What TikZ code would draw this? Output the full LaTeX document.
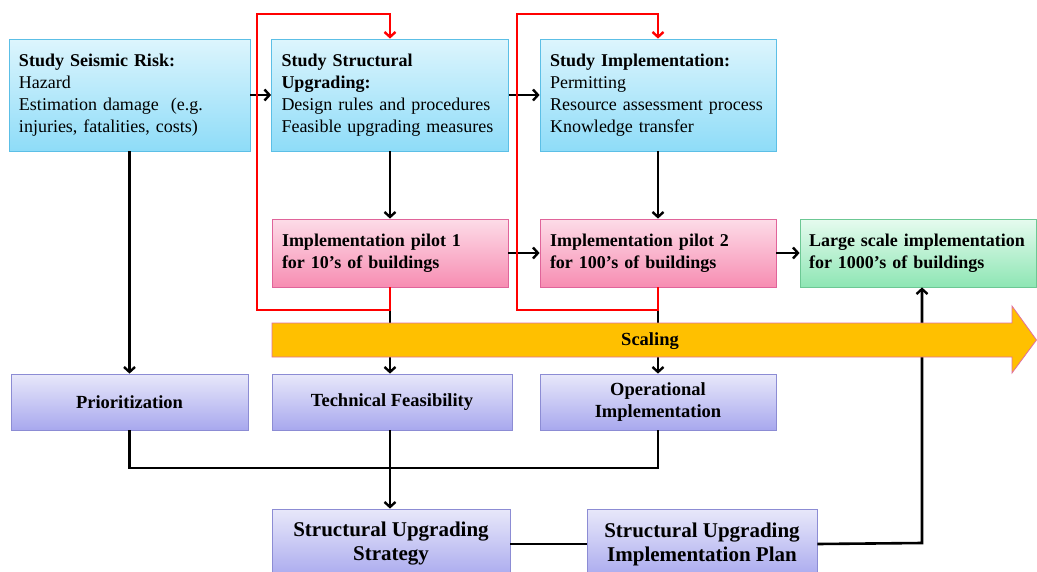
\documentclass[tikz,border=0pt]{standalone}
\usepackage{fontspec}
\setmainfont{Liberation Serif}
\usetikzlibrary{arrows.meta}
\definecolor{cyanT}{HTML}{DDF5FD}
\definecolor{cyanB}{HTML}{8EDCF8}
\definecolor{cyanD}{HTML}{5CBFE6}
\definecolor{pinkT}{HTML}{FDDCE8}
\definecolor{pinkB}{HTML}{F78DB2}
\definecolor{pinkD}{HTML}{E0649A}
\definecolor{greenT}{HTML}{E6FBEF}
\definecolor{greenB}{HTML}{8EE6B4}
\definecolor{greenD}{HTML}{6CC894}
\definecolor{lavT}{HTML}{E8E8FA}
\definecolor{lavB}{HTML}{A8A8EE}
\definecolor{lavD}{HTML}{8C8CD4}
\definecolor{scaleY}{HTML}{FFC000}
\definecolor{scaleD}{HTML}{E070A0}
\definecolor{redL}{HTML}{FF0000}
\tikzset{
  box/.style={rectangle, inner xsep=10pt, inner ysep=0pt, line width=0.8pt, font=\fontsize{18}{22}\selectfont},
  studybox/.style={box, draw=cyanD, top color=cyanT, bottom color=cyanB, align=left, text width=#1-20pt, minimum width=#1, minimum height=112pt},
  pilotbox/.style={box, draw=pinkD, top color=pinkT, bottom color=pinkB, align=left, text width=#1-20pt, minimum width=#1, minimum height=68pt, font=\fontsize{18}{22}\selectfont\bfseries},
  largebox/.style={box, draw=greenD, top color=greenT, bottom color=greenB, align=left, inner xsep=9pt, text width=#1-18pt, minimum width=#1, minimum height=68pt, font=\fontsize{18}{22}\selectfont\bfseries},
  resbox/.style={box, draw=lavD, top color=lavT, bottom color=lavB, align=center, minimum width=#1, minimum height=56pt, font=\fontsize{18.5}{22}\selectfont\bfseries},
  planbox/.style={box, draw=lavD, top color=lavT, bottom color=lavB, align=center, minimum width=#1, minimum height=70pt, font=\fontsize{21}{24}\selectfont\bfseries},
  conn/.style={line width=2.6pt, black},
  arr/.style={conn, -{Straight Barb[length=5pt,width=11pt,line width=2.4pt]}},
  redarr/.style={line width=2.6pt, redL, -{Straight Barb[length=5pt,width=11pt,line width=2.4pt]}},
}
\begin{document}
\begin{tikzpicture}[x=1pt, y=-1pt]
\useasboundingbox[fill=white] (0,0) rectangle (1037,571);

% top row
\node[studybox=241pt] (risk) at (129.5,95) {\textbf{Study Seismic Risk:}\\Hazard\\Estimation damage~ (e.g.\\injuries, fatalities, costs)};
\node[studybox=237pt] (struct) at (390,95) {\textbf{Study Structural}\\\textbf{Upgrading:}\\Design rules and procedures\\Feasible upgrading measures};
\node[studybox=236pt] (impl) at (658,95) {\textbf{Study Implementation:}\\Permitting\\Resource assessment process\\Knowledge transfer};

% pilots
\node[pilotbox=236pt] (pilot1) at (390,253) {Implementation pilot 1\\for 10's of buildings};
\node[pilotbox=236pt] (pilot2) at (658,253) {Implementation pilot 2\\for 100's of buildings};
\node[largebox=236pt] (large) at (918,253) {\mbox{Large scale implementation}\\for 1000's of buildings};

% results
\node[resbox=237pt] (prio) at (129.5,402) {Prioritization};
\node[resbox=240pt] (tech) at (392,402) {Technical Feasibility};
\node[resbox=236pt] (oper) at (658,402) {Operational\\Implementation};

% strategy and plan
\node[planbox=238pt] (strat) at (391,544) {Structural Upgrading\\Strategy};
\node[planbox=230pt] (plan) at (702,544) {Structural Upgrading\\Implementation Plan};

% coordinates
\coordinate (j) at (390,468);
\coordinate (k) at (922,543);

% black connectors
\draw[arr] (risk.east) -- (struct.west);
\draw[arr] (struct.east) -- (impl.west);
\draw[arr] (struct.south) -- (pilot1.north);
\draw[arr] (impl.south) -- (pilot2.north);
\draw[arr] (pilot1.east) -- (pilot2.west);
\draw[arr] (pilot2.east) -- (large.west);
\draw[arr] (risk.south) -- (prio.north);
\draw[arr] (pilot1.south) -- (pilot1.south |- tech.north);
\draw[arr] (pilot2.south) -- (oper.north);
\draw[conn] (prio.south) |- (j) -| (oper.south);
\draw[conn] (tech.south -| j) -- (j);
\draw[arr] (j) -- (j |- strat.north);
\draw[conn] (strat.east) -- (plan.west);
\draw[arr] (plan.east) -- (k) -- (k |- large.south);

% red feedback loops
\coordinate (r1) at (257,310);
\coordinate (r1t) at (257,14);
\draw[redarr] (pilot1.south) -- (pilot1.south |- r1) -- (r1) -- (r1t) -- (struct.north |- r1t) -- (struct.north);
\coordinate (r2) at (517,310);
\coordinate (r2t) at (517,14);
\draw[redarr] (pilot2.south) -- (pilot2.south |- r2) -- (r2) -- (r2t) -- (impl.north |- r2t) -- (impl.north);

% scaling arrow
\draw[fill=scaleY, draw=scaleD, line width=0.8pt, line join=miter]
  (272,323) -- (1012,323) -- (1012,306) -- (1036.5,340) -- (1012,373) -- (1012,357) -- (272,357) -- cycle;
\node[font=\fontsize{18.5}{20}\selectfont\bfseries] (scaling) at (650,341) {Scaling};
\end{tikzpicture}
\end{document}
